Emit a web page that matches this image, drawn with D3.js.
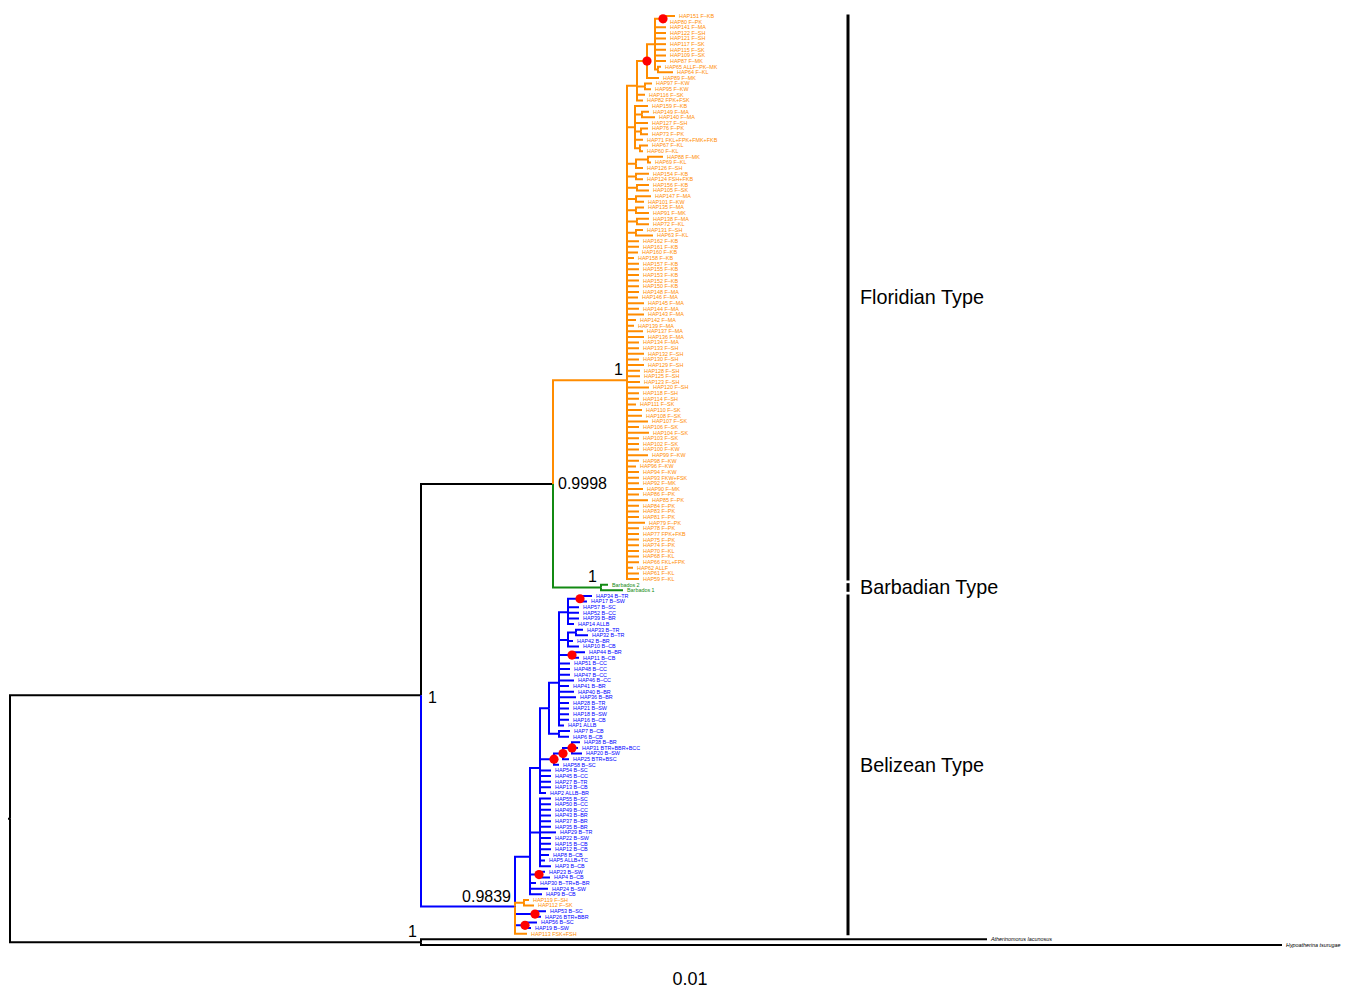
<!DOCTYPE html>
<html>
<head>
<meta charset="utf-8">
<script src="https://cdn.jsdelivr.net/npm/d3@7"></script>
<style>
  body { margin: 0; background: #fff; }
  svg { display: block; }
</style>
</head>
<body>
<svg id="chart" width="1347" height="993"></svg>
<script>
// ---- tree data (newick, branch lengths in substitutions/site) ----
const outgroupTree = "(Atherinomorus lacunosus:0.0566,Hypoatherina tsurugae:0.0861)Out";

const floridianSubclades = [
  "((((HAP151 F–KB:0.0012,HAP80 F–PK:0.0003)P01:0.0008,HAP141 F–MA:0.0011,HAP122 F–SH:0.0011,HAP121 F–SH:0.0011,",
  "HAP117 F–SK:0.0011,HAP115 F–SK:0.0011,HAP109 F–SK:0.0011,HAP87 F–MK:0.0011,",
  "(HAP65 ALLF–PK–MK:0.0003,HAP64 F–KL:0.0015)P910:0.0003)B:0.0008,HAP89 F–MK:0.0012)C:0.0010,",
  "(HAP97 F–KW:0.0007,HAP95 F–KW:0.0006):0.0008,HAP116 F–SK:0.0008,HAP82 FPK+FSK:0.0006)E:0.0010,",
  "(HAP159 F–KB:0.0013,(HAP149 F–MA:0.0007,HAP140 F–MA:0.0013):0.0007,HAP127 F–SH:0.0013,",
  "(HAP76 F–PK:0.0007,HAP73 F–PK:0.0007):0.0006,HAP71 FKL+FPK+FMK+FKB:0.0008,",
  "(HAP67 F–KL:0.0008,HAP60 F–KL:0.0003):0.0005)D:0.0008,",
  "((HAP88 F–MK:0.0015,HAP69 F–KL:0.0003):0.0012,HAP126 F–SH:0.0007):0.0009,",
  "(HAP154 F–KB:0.0013,HAP124 FSH+FKB:0.0007):0.0009,",
  "(HAP156 F–KB:0.0012,HAP105 F–SK:0.0012):0.0010,",
  "(HAP147 F–MA:0.0015,HAP101 F–KW:0.0008):0.0009,",
  "(HAP135 F–MA:0.0008,HAP91 F–MK:0.0013):0.0009,",
  "(HAP138 F–MA:0.0012,HAP72 F–KL:0.0012):0.0010,",
  "(HAP131 F–SH:0.0007,HAP63 F–KL:0.0017):0.0009"
];

// haplotypes hanging straight off the Floridian node
const floridianTips = [
  "HAP162 F–KB","HAP161 F–KB","HAP160 F–KB","HAP158 F–KB","HAP157 F–KB","HAP155 F–KB","HAP153 F–KB",
  "HAP152 F–KB","HAP150 F–KB","HAP148 F–MA","HAP146 F–MA","HAP145 F–MA","HAP144 F–MA","HAP143 F–MA",
  "HAP142 F–MA","HAP139 F–MA","HAP137 F–MA","HAP136 F–MA","HAP134 F–MA","HAP133 F–SH","HAP132 F–SH",
  "HAP130 F–SH","HAP129 F–SH","HAP128 F–SH","HAP125 F–SH","HAP123 F–SH","HAP120 F–SH","HAP118 F–SH",
  "HAP114 F–SH","HAP111 F–SK","HAP110 F–SK","HAP108 F–SK","HAP107 F–SK","HAP106 F–SK","HAP104 F–SK",
  "HAP103 F–SK","HAP102 F–SK","HAP100 F–KW","HAP99 F–KW","HAP98 F–KW","HAP96 F–KW","HAP94 F–KW",
  "HAP93 FKW+FSK","HAP92 F–MK","HAP90 F–MK","HAP86 F–PK","HAP85 F–PK","HAP84 F–PK","HAP83 F–PK",
  "HAP81 F–PK","HAP79 F–PK","HAP78 F–PK","HAP77 FPK+FKB","HAP75 F–PK","HAP74 F–PK","HAP70 F–KL",
  "HAP68 F–KL","HAP66 FKL+FPK","HAP62 ALLF","HAP61 F–KL","HAP59 F–KL"
];
const floridianTipLengths = [
  0.0012,0.0012,0.0011,0.0007,0.0012,0.0012,0.0012,
  0.0012,0.0012,0.0012,0.0011,0.0017,0.0012,0.0017,
  0.0009,0.0007,0.0016,0.0017,0.0012,0.0012,0.0017,
  0.0012,0.0017,0.0013,0.0013,0.0013,0.0022,0.0012,
  0.0012,0.0009,0.0015,0.0015,0.0021,0.0012,0.0022,
  0.0012,0.0012,0.0012,0.0021,0.0012,0.0009,0.0012,
  0.0012,0.0012,0.0016,0.0012,0.0021,0.0012,0.0012,
  0.0012,0.0018,0.0012,0.0012,0.0012,0.0012,0.0012,
  0.0012,0.0012,0.0006,0.0012,0.0012
];

const barbadianTree = "(Barbados 2:0.0007,Barbados 1:0.0022)Barb";

const belizeanTree = [
  "(((((((HAP34 B–TR:0.0012,HAP17 B–SW:0.0007)P3417:0.0012,HAP57 B–SC:0.0011,HAP52 B–CC:0.0011,",
  "HAP39 B–BR:0.0011,HAP14 ALLB:0.0006)K:0.0009,",
  "((HAP33 B–TR:0.0007,HAP32 B–TR:0.0012):0.0008,HAP42 B–BR:0.0005,HAP10 B–CB:0.0011)L:0.0009,",
  "(HAP44 B–BR:0.0013,HAP11 B–CB:0.0007)P4411:0.0013,",
  "HAP51 B–CC:0.0011,HAP48 B–CC:0.0011,HAP47 B–CC:0.0011,HAP46 B–CC:0.0015,HAP41 B–BR:0.0010,",
  "HAP40 B–BR:0.0015,HAP36 B–BR:0.0017,HAP28 B–TR:0.0010,HAP21 B–SW:0.0010,HAP18 B–SW:0.0010,",
  "HAP16 B–CB:0.0010,HAP1 ALLB:0.0005)N6:0.0010,",
  "(HAP7 B–CB:0.0011,HAP6 B–CB:0.0010):0.0010)N5:0.0009,",
  "(((HAP38 B–BR:0.0008,HAP31 BTR+BBR+BCC:0.0006,HAP20 B–SW:0.0010)R1:0.0009,HAP25 BTR+BSC:0.0006)R2:0.0009,",
  "HAP58 B–SC:0.0005)R3:0.0014,",
  "HAP54 B–SC:0.0011,HAP45 B–CC:0.0011,HAP27 B–TR:0.0011,HAP13 B–CB:0.0011,HAP2 ALLB–BR:0.0006)N3:0.0010,",
  "(HAP55 B–SC:0.0011,HAP50 B–CC:0.0011,HAP49 B–CC:0.0011,HAP43 B–BR:0.0011,HAP37 B–BR:0.0011,",
  "HAP35 B–BR:0.0011,HAP29 B–TR:0.0016,HAP22 B–SW:0.0011,HAP15 B–CB:0.0011,HAP12 B–CB:0.0011,",
  "HAP8 B–CB:0.0009,HAP5 ALLB+TC:0.0005,HAP3 B–CB:0.0011)N4:0.0010,",
  "(HAP23 B–SW:0.0006,HAP4 B–CB:0.0011)P234:0.0009,",
  "HAP30 B–TR+B–BR:0.0006,HAP24 B–SW:0.0018,HAP9 B–CB:0.0012)N2:0.0015,",
  "(HAP119 F–SH:0.0005,HAP112 F–SK:0.0010)P119:0.0009,",
  "(HAP53 B–SC:0.0011,HAP26 BTR+BBR:0.0006)P5326:0.0020,",
  "(HAP56 B–SC:0.0012,HAP19 B–SW:0.0006)P5619:0.0010,",
  "HAP113 FSK+FSH:0.0012)Bel"
].join("");

// posterior support shown on the figure
const supportNodes = ["Flo", "Carib", "Barb", "In", "Bel", "Out"];
const supportValues = ["1", "0.9998", "1", "1", "0.9839", "1"];

// nodes flagged with a red dot
const redDotNodes = ["P01", "C", "P3417", "P4411", "R1", "R2", "R3", "P234", "P5326", "P5619"];

// lineage brackets on the right
const typeNames = ["Floridian Type", "Barbadian Type", "Belizean Type"];
const typeClades = ["Flo", "Barb", "Bel"];

const scaleBarLabel = "0.01";
const rootEdge = 0.0002;

// ---- assemble newick ----
const floridianTree = "(" + floridianSubclades.join("") + "," +
  floridianTips.map((n, i) => `${n}:${floridianTipLengths[i]}`).join(",") + ")Flo";
const caribTree = `(${floridianTree}:0.0074,${barbadianTree}:0.0048)Carib`;
const fullTree = `((${caribTree}:0.0132,${belizeanTree}:0.0094)In:0.0411,${outgroupTree}:0.0411)Root;`;

function parseNewick(s) {
  const ancestors = [];
  let tree = {};
  const tokens = s.split(/\s*(;|\(|\)|,|:)\s*/);
  for (let i = 0; i < tokens.length; i++) {
    const token = tokens[i];
    switch (token) {
      case "(": { const sub = {}; tree.children = [sub]; ancestors.push(tree); tree = sub; break; }
      case ",": { const sub = {}; ancestors[ancestors.length - 1].children.push(sub); tree = sub; break; }
      case ")": tree = ancestors.pop(); break;
      case ":": case ";": break;
      default: {
        const prev = tokens[i - 1];
        if (prev === ")" || prev === "(" || prev === ",") tree.name = token;
        else if (prev === ":") tree.length = parseFloat(token);
      }
    }
  }
  return tree;
}

// ---- layout ----
const svg = d3.select("#chart");
const FONT = "'Liberation Sans', Arial, Helvetica, sans-serif";
const ORANGE = "#ff8c00", BLUE = "#0000ff", GREEN = "#138a13", BLACK = "#000";

const root = d3.hierarchy(parseNewick(fullTree));
root.eachBefore(d => { d.dist = d.parent ? d.parent.dist + (d.data.length || 0) : 0; });
const leaves = root.leaves();

const x = d3.scaleLinear().domain([0, 0.1272]).range([10, 1282]);
const y = d3.scaleLinear().domain([0, leaves.length - 1]).range([16, 945]);

leaves.forEach((d, i) => { d.yy = y(i); });
root.eachAfter(d => { if (d.children) d.yy = d3.mean(d.children, c => c.yy); });

const byName = new Map(root.descendants().filter(d => d.data.name).map(d => [d.data.name, d]));

function leafColor(name) {
  if (/^Barbados/.test(name)) return GREEN;
  const code = (name.split(" ")[1] || "").replace(/^ALL/, "");
  if (code[0] === "F") return ORANGE;
  if (code[0] === "B") return BLUE;
  return BLACK;
}
const cladeOverride = { Bel: BLUE };
root.eachAfter(d => {
  if (!d.children) { d.color = leafColor(d.data.name); return; }
  const cols = new Set(d.children.map(c => c.color));
  d.color = cladeOverride[d.data.name] || (cols.size === 1 ? [...cols][0] : BLACK);
});

// ---- edges ----
const edges = root.descendants().filter(d => d.parent);
svg.append("g")
  .attr("fill", "none")
  .attr("stroke-width", 2)
  .selectAll("path")
  .data(edges)
  .join("path")
  .attr("stroke", d => d.color)
  .attr("d", d => `M${x(d.parent.dist)},${d.parent.yy}V${d.yy}H${x(d.dist)}`);

svg.append("line")
  .attr("x1", x(-rootEdge)).attr("x2", x(0))
  .attr("y1", root.yy).attr("y2", root.yy)
  .attr("stroke", BLACK).attr("stroke-width", 2);

// ---- red dots ----
svg.append("g")
  .selectAll("circle")
  .data(redDotNodes.map(n => byName.get(n)))
  .join("circle")
  .attr("cx", d => x(d.dist))
  .attr("cy", d => d.yy)
  .attr("r", 4.6)
  .attr("fill", "#ff0000");

// ---- tip labels ----
svg.append("g")
  .attr("font-family", FONT)
  .attr("font-size", 5.4)
  .selectAll("text")
  .data(leaves)
  .join("text")
  .attr("x", d => x(d.dist) + 4)
  .attr("y", d => d.yy)
  .attr("dy", "0.35em")
  .attr("fill", d => d.color)
  .attr("font-style", d => d.color === BLACK ? "italic" : null)
  .text(d => d.data.name);

// ---- support values ----
const rightSide = new Set(["Carib", "In"]);
svg.append("g")
  .attr("font-family", FONT)
  .attr("font-size", 16)
  .selectAll("text")
  .data(supportNodes.map((n, i) => ({ node: byName.get(n), label: supportValues[i], name: n })))
  .join("text")
  .attr("x", d => rightSide.has(d.name) ? x(d.node.dist) + (d.name === "In" ? 7 : 5) : x(d.node.dist) - 4)
  .attr("y", d => rightSide.has(d.name) ? d.node.yy + (d.name === "In" ? 2 : 0) : d.node.yy - 5)
  .attr("dy", d => rightSide.has(d.name) ? "0.35em" : null)
  .attr("text-anchor", d => rightSide.has(d.name) ? "start" : "end")
  .attr("fill", BLACK)
  .text(d => d.label);

// ---- type brackets ----
const types = typeNames.map((t, i) => {
  const lv = byName.get(typeClades[i]).leaves();
  return { name: t, y0: lv[0].yy, y1: lv[lv.length - 1].yy };
});
const tg = svg.append("g");
tg.selectAll("line")
  .data(types)
  .join("line")
  .attr("x1", 848).attr("x2", 848)
  .attr("y1", d => d.y0 - 1.5).attr("y2", d => d.y1 + 1.5)
  .attr("stroke", BLACK).attr("stroke-width", 3);
tg.selectAll("text")
  .data(types)
  .join("text")
  .attr("x", 860)
  .attr("y", d => (d.y0 + d.y1) / 2)
  .attr("dy", "0.35em")
  .attr("font-family", FONT)
  .attr("font-size", 19.8)
  .text(d => d.name);

// ---- scale label ----
svg.append("text")
  .attr("x", 690).attr("y", 979)
  .attr("dy", "0.35em")
  .attr("text-anchor", "middle")
  .attr("font-family", FONT)
  .attr("font-size", 18)
  .text(scaleBarLabel);
</script>
</body>
</html>
